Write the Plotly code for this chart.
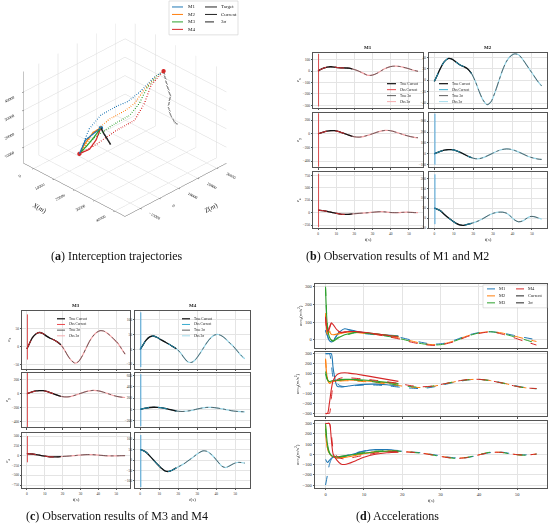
import plotly.graph_objects as go

W, H = 550, 528
FONT = 'Liberation Serif'

# ---------------- (a) 3D trajectories: points as (X, Z, height) ----------------
start_pt = (7500, -2100, 5000)
meet_pt = (8400, 8200, 14000)
end_pt = (24000, 24400, 45000)

m1_sigma = [(7500, -2100, 5000), (6900, 3700, 15000), (9300, 7200, 22000), (13400, 10500, 27000),
            (16500, 13800, 30000), (19400, 16700, 35000), (21200, 22400, 41000), (24000, 24400, 45000)]
m2_sigma = [(7500, -2100, 5000), (7400, 5200, 12000), (10800, 9700, 19000), (15800, 13000, 25000),
            (18200, 15500, 29000), (20100, 18500, 36000), (21900, 23100, 42000), (24000, 24400, 45000)]
m3_sigma = [(7500, -2100, 5000), (8000, 5000, 10000), (12600, 9700, 17000), (18300, 12800, 24000),
            (20200, 15800, 30000), (20800, 19200, 37000), (22400, 23700, 43000), (24000, 24400, 45000)]
m4_sigma = [(7500, -2100, 5000), (10800, 3100, 9000), (15200, 8600, 16000), (21800, 11600, 24000),
            (24200, 14100, 33000), (23200, 18700, 40000), (24000, 24400, 45000)]
m1_cur = [(7500, -2100, 5000), (7750, 800, 11000), (8400, 8200, 14000)]
m2_cur = [(7500, -2100, 5000), (7500, 500, 8500), (6900, 5700, 12000), (8400, 8200, 14000)]
m3_cur = [(7500, -2100, 5000), (8400, 500, 8000), (8800, 3800, 11000), (8400, 8200, 14000)]
m4_cur = [(7500, -2100, 5000), (9600, 900, 7000), (9500, 4500, 10000), (8400, 8200, 14000)]
target_cur = [(8400, 8200, 14000), (10000, 8000, 12000), (13500, 7900, 8000)]
target_sigma = [(24000, 24400, 45000), (26100, 23700, 40000), (28800, 22900, 35000), (29700, 20900, 31000),
                (30600, 21000, 27000), (31500, 22000, 23000), (31100, 24500, 20000)]

# ---------------- (b),(c) observation errors ----------------
t_err = [0, 1, 3, 5, 7, 9, 11, 13, 15, 17, 19, 21, 23, 25, 27, 29, 31, 33, 35, 37, 39, 41, 43, 45, 47, 49, 51, 53, 55]
t_switch = 19

m1_ex = [0, 10, 25, 35, 38, 35, 30, 28, 27, 25, 18, 8, -5, -20, -35, -38, -30, -15, 5, 22, 35, 42, 43, 40, 33, 25, 15, 5, -2]
m1_ey = [0, 8, 25, 38, 45, 45, 35, 18, 0, -20, -38, -47, -48, -40, -25, -8, 10, 28, 42, 50, 48, 38, 22, 5, -12, -28, -42, -52, -58]
m1_ez = [50, 48, 40, 25, 10, -5, -20, -32, -35, -32, -25, -18, -12, -8, -2, 5, 12, 18, 20, 15, 8, 2, 0, 3, 8, 10, 6, 2, 0]
m2_ex = [-2, 5, 20, 32, 38, 37, 32, 27, 24, 20, 12, -2, -20, -35, -43, -38, -22, -2, 18, 33, 42, 46, 45, 38, 28, 18, 8, -2, -10]
m2_ey = [0, 8, 22, 33, 38, 38, 30, 15, -2, -20, -35, -45, -45, -35, -20, -3, 15, 30, 40, 45, 42, 32, 18, 2, -15, -30, -40, -48, -52]
m2_ez = [50, 47, 38, 20, 3, -12, -25, -34, -36, -31, -26, -20, -12, -2, 10, 20, 27, 30, 30, 25, 10, -8, -18, -15, -3, 8, 8, 2, -5]
m3_ex = [-5, 5, 25, 36, 40, 37, 30, 24, 20, 14, 6, -8, -25, -38, -45, -40, -25, -5, 15, 30, 40, 45, 44, 38, 30, 20, 10, -5, -20]
m3_ey = [0, 8, 25, 38, 44, 42, 32, 15, -3, -22, -38, -46, -46, -38, -22, -5, 12, 28, 40, 46, 44, 35, 20, 3, -14, -30, -42, -50, -55]
m3_ez = [50, 48, 42, 28, 12, -5, -20, -30, -33, -30, -24, -18, -12, -5, 3, 12, 20, 26, 28, 25, 18, 10, 3, -3, -6, -5, -3, -1, 0]
m4_ex = [0, 10, 30, 42, 45, 40, 32, 25, 18, 10, 2, -10, -28, -42, -44, -35, -18, 2, 22, 38, 48, 50, 45, 35, 22, 10, -5, -20, -32]
m4_ey = [0, 8, 22, 32, 36, 35, 28, 15, 0, -15, -30, -38, -38, -30, -18, -3, 12, 25, 33, 35, 30, 20, 8, -5, -18, -30, -38, -42, -45]
m4_ez = [50, 47, 38, 20, 0, -20, -38, -52, -55, -48, -38, -28, -18, -5, 8, 22, 35, 44, 42, 30, 12, -10, -30, -36, -28, -18, -12, -12, -15]

# initial observation transient (top, bottom) at t ~ 0
m1_spikes = [(150, -310), (300, -480), (780, -290)]
m2_spikes = [None, (370, -100), (220, -30)]
m3_spikes = [(90, -35), (300, -480), (500, -170)]
m4_spikes = [(125, -60), (620, -300), (120, -130)]

m1_yranges = [[-320, 160], [-490, 310], [-310, 810]]
m2_yranges = [[-48, 48], [-125, 380], [-50, 230]]
m3_yranges = [[-60, 100], [-480, 300], [-830, 570]]
m4_yranges = [[-65, 130], [-320, 650], [-135, 128]]
m1_yticks = [[-300, -200, -100, 0, 100], [-400, -200, 0, 200], [-250, 0, 250, 500, 750]]
m2_yticks = [[-40, -20, 0, 20, 40], [-100, 0, 100, 200, 300], [-50, 0, 50, 100, 150, 200]]
m3_yticks = [[-50, 0, 50], [-400, -200, 0, 200], [-750, -500, -250, 0, 250, 500]]
m4_yticks = [[-50, 0, 50, 100], [-200, 0, 200, 400, 600], [-100, -50, 0, 50, 100]]

# ---------------- (d) accelerations ----------------
t_acc = [0, 0.5, 1, 1.5, 2, 3, 4, 5, 6, 8, 10, 13, 16, 19, 22, 25, 28, 31, 34, 37, 40, 43, 46, 49, 52, 55]
t_acc_cur = [0, 0.5, 1, 1.5, 2, 3, 4, 5, 6, 8, 10, 13, 16, 19]

accx_sig = [
    [50, 20, -10, -15, -5, 30, 55, 60, 55, 45, 35, 28, 22, 15, 0, -15, -25, -20, 0, 25, 40, 45, 38, 25, 12, 0],
    [150, 30, 50, 35, 25, 30, 35, 40, 40, 40, 37, 30, 20, 10, -5, -20, -28, -22, -3, 22, 38, 45, 38, 22, 5, -10],
    [300, 80, 20, 0, -5, 10, 20, 25, 30, 40, 38, 30, 20, 8, -8, -22, -30, -25, -5, 20, 38, 45, 35, 18, 0, -20],
    [130, 40, 60, 90, 80, 50, 40, 42, 45, 45, 40, 30, 18, 5, -12, -25, -32, -25, -8, 18, 35, 44, 32, 12, -10, -30],
]
accx_cur = [
    [55, 25, -5, -12, -8, 25, 50, 62, 58, 48, 40, 32, 27, 22],
    [140, 35, 45, 30, 28, 32, 38, 42, 42, 42, 38, 32, 25, 18],
    [290, 70, 15, -3, -8, 5, 18, 28, 33, 42, 40, 33, 25, 18],
    [125, 45, 70, 95, 85, 55, 42, 44, 46, 46, 42, 34, 25, 15],
]
accy_sig = [
    [300, 300, 300, 200, 60, 0, -25, -30, -28, -20, -15, -15, -22, -35, -45, -50, -35, -10, 15, 35, 42, 30, 8, -18, -40, -52],
    [250, 50, 0, 10, 15, 20, 25, 28, 28, 25, 20, 10, -5, -20, -35, -40, -28, -5, 20, 38, 42, 30, 8, -20, -42, -50],
    [120, 40, 15, 20, 25, 30, 35, 38, 38, 35, 28, 15, 0, -15, -30, -38, -25, -3, 22, 38, 42, 28, 5, -22, -43, -52],
    [-300, -300, -300, -150, -20, 40, 55, 60, 58, 52, 45, 32, 18, 2, -20, -32, -25, -2, 22, 40, 42, 28, 5, -22, -43, -50],
]
accy_cur = [
    [300, 300, 300, 300, 150, -25, -33, -30, -25, -15, -8, -6, -12, -25],
    [240, 45, 5, 15, 20, 28, 32, 35, 35, 32, 28, 18, 8, -5],
    [100, 35, 20, 25, 30, 35, 40, 42, 42, 40, 35, 25, 12, 0],
    [-300, -300, -200, -60, 30, 90, 105, 108, 105, 95, 82, 62, 42, 22],
]
accz_sig = [
    [-300, -200, -100, -50, -30, -28, -22, -15, -5, 15, 32, 45, 42, 32, 24, 14, -3, -22, -36, -32, -8, 16, 20, 2, -6, 3],
    [280, 60, 0, -20, -30, -35, -30, -25, -18, -2, 12, 25, 32, 30, 22, 12, -5, -25, -38, -30, -5, 18, 18, 0, -8, 2],
    [250, 80, 10, -15, -25, -30, -25, -20, -12, 5, 18, 30, 35, 30, 20, 10, -8, -28, -40, -30, -3, 20, 17, -2, -9, 0],
    [300, 300, 300, 200, 50, -20, -40, -45, -40, -25, -10, 10, 22, 25, 20, 10, -8, -28, -40, -32, -6, 17, 18, 0, -8, 2],
]
accz_cur = [
    [-50, -80, -60, -40, -30, -35, -30, -20, -10, 10, 30, 45, 45, 35],
    [200, 60, 10, -15, -25, -35, -35, -30, -25, -10, 5, 20, 28, 26],
    [300, 100, 20, -10, -20, -25, -20, -15, -10, 0, 10, 25, 30, 28],
    [300, 300, 300, 150, 0, -60, -95, -100, -90, -60, -30, 0, 15, 20],
]
acc_yranges = [[-45, 315], [-330, 320], [-330, 320]]
acc_yticks = [[0, 100, 200, 300], [-300, -200, -100, 0, 100, 200, 300], [-300, -200, -100, 0, 100, 200, 300]]

missiles = ['M1', 'M2', 'M3', 'M4']
colors = ['#1f77b4', '#ff7f0e', '#2ca02c', '#d62728']


def xp(p):
    return p / W


def yp(p):
    return 1 - p / H


fig = go.Figure()
layout = dict(width=W, height=H, margin=dict(l=0, r=0, t=0, b=0), showlegend=False,
              paper_bgcolor='white', plot_bgcolor='white',
              font=dict(family=FONT, color='#222'))
shapes = []
annotations = []
k = 0


def make_axes(xpx, ypx, yrange, yticks, show_x, ytitle, tickfs, titlefs):
    global k
    k += 1
    sx = '' if k == 1 else str(k)
    common = dict(showline=True, mirror=True, linecolor='#555', linewidth=0.7,
                  showgrid=True, gridcolor='#e4e4e4', gridwidth=0.5, zeroline=False,
                  ticks='outside', ticklen=1.5, tickwidth=0.5, tickcolor='#555',
                  tickfont=dict(size=tickfs, color='#333'))
    layout['xaxis' + sx] = dict(common, domain=[xp(xpx[0]), xp(xpx[1])], anchor='y' + sx,
                                range=[-2.75, 57.75], tickvals=[0, 10, 20, 30, 40, 50],
                                showticklabels=show_x,
                                title=dict(text='<i>t</i>(<i>s</i>)' if show_x else '',
                                           font=dict(size=titlefs), standoff=2))
    layout['yaxis' + sx] = dict(common, domain=[yp(ypx[1]), yp(ypx[0])], anchor='x' + sx,
                                range=yrange, tickvals=yticks,
                                title=dict(text=ytitle, font=dict(size=titlefs), standoff=2))
    return 'x' + sx, 'y' + sx


def line(x, y, xa, ya, color, width, dash='solid', spline=True):
    fig.add_trace(go.Scatter(x=x, y=y, xaxis=xa, yaxis=ya, mode='lines', hoverinfo='skip',
                             line=dict(color=color, width=width, dash=dash,
                                       shape='spline' if spline else 'linear', smoothing=0.8)))


def add_legend(entries, x_line, x_text, y0, dy, seg, fs, frame=None):
    if frame:
        shapes.append(dict(type='rect', xref='paper', yref='paper', x0=xp(frame[0]), x1=xp(frame[1]),
                           y0=yp(frame[3]), y1=yp(frame[2]), fillcolor='rgba(255,255,255,0.9)',
                           line=dict(color='#cccccc', width=0.6)))
    for i, (label, color, dash, width) in enumerate(entries):
        y = y0 + i * dy
        shapes.append(dict(type='line', xref='paper', yref='paper', x0=xp(x_line), x1=xp(x_line + seg),
                           y0=yp(y), y1=yp(y), line=dict(color=color, width=width, dash=dash)))
        annotations.append(dict(text=label, xref='paper', yref='paper', x=xp(x_text), y=yp(y),
                                xanchor='left', yanchor='middle', showarrow=False,
                                font=dict(size=fs, color='#222')))


# ---------------- (a) ----------------
def add3d(pts, color, width, dash='solid'):
    fig.add_trace(go.Scatter3d(x=[p[0] for p in pts], y=[p[1] for p in pts], z=[p[2] for p in pts],
                               mode='lines', hoverinfo='skip', line=dict(color=color, width=width, dash=dash)))


for pts, c in zip([m1_sigma, m2_sigma, m3_sigma, m4_sigma], colors):
    add3d(pts, c, 2.5, 'dash')
for pts, c in zip([m1_cur, m2_cur, m3_cur, m4_cur], colors):
    add3d(pts, c, 2.5)
add3d(target_cur, '#222222', 3)
add3d(target_sigma, '#222222', 3, 'dash')
fig.add_trace(go.Scatter3d(x=[start_pt[0]] * 4, y=[start_pt[1]] * 4, z=[start_pt[2]] * 4, mode='markers',
                           hoverinfo='skip', marker=dict(color=colors, size=2.5)))
fig.add_trace(go.Scatter3d(x=[meet_pt[0], end_pt[0]], y=[meet_pt[1], end_pt[1]], z=[meet_pt[2], end_pt[2]],
                           mode='markers', hoverinfo='skip', marker=dict(color=[colors[0], colors[3]], size=2.5)))

ax3 = dict(showbackground=False, gridcolor='#d9d9d9', gridwidth=1, zeroline=False, showspikes=False,
           showline=True, linecolor='#666', tickfont=dict(size=7, family=FONT, color='#222'),
           ticks='outside', ticklen=2, tickformat='d')
layout['scene'] = dict(
    domain=dict(x=[0, xp(250)], y=[yp(240), 1]),
    xaxis=dict(ax3, range=[-5000, 45000], tickvals=[0, 10000, 20000, 30000, 40000],
               title=dict(text='<i>X</i>(<i>m</i>)', font=dict(size=7, family=FONT))),
    yaxis=dict(ax3, range=[-18000, 35000], tickvals=[-10000, 0, 10000, 20000, 30000],
               title=dict(text='<i>Z</i>(<i>m</i>)', font=dict(size=7, family=FONT))),
    zaxis=dict(ax3, range=[1300, 51000], tickvals=[10000, 20000, 30000, 40000], title=dict(text='')),
    aspectmode='manual', aspectratio=dict(x=1.2, y=1.2, z=0.9),
    camera=dict(eye=dict(x=0.93, y=-0.93, z=0.79), center=dict(x=0, y=0, z=-0.02),
                projection=dict(type='orthographic')),
)
add_legend([(m, c, 'solid', 1) for m, c in zip(missiles, colors)], 172, 186, 7, 7.5, 11, 5,
           frame=(169, 238, 1, 35))
add_legend([('Target', '#222', 'solid', 1), ('Current', '#222', 'solid', 1), ('3σ', '#222', 'dash', 1)],
           205, 219, 7, 7.5, 12, 5)

# ---------------- (b), (c) ----------------
err_cases = [
    ('M1', [m1_ex, m1_ey, m1_ez], m1_spikes, m1_yranges, m1_yticks, (313, 423), [(53, 108), (113, 168), (173, 229)], True),
    ('M2', [m2_ex, m2_ey, m2_ez], m2_spikes, m2_yranges, m2_yticks, (429, 547), [(53, 108), (113, 168), (173, 229)], False),
    ('M3', [m3_ex, m3_ey, m3_ez], m3_spikes, m3_yranges, m3_yticks, (22, 130), [(312, 370), (374, 429), (435, 490)], True),
    ('M4', [m4_ex, m4_ey, m4_ez], m4_spikes, m4_yranges, m4_yticks, (135, 250), [(312, 370), (374, 429), (435, 490)], False),
]
n_cur = len([t for t in t_err if t <= t_switch])
for name, series, spikes, yr, yt, xpx, rows, left in err_cases:
    dark, light = ('#e8363a', '#f4a3a6') if name in ('M1', 'M3') else ('#22a3c9', '#97d6e8')
    spike_c = '#d62728' if name in ('M1', 'M3') else '#1f8fd0'
    for r, (vals, sp) in enumerate(zip(series, spikes)):
        ytitle = '<i>e</i><sub>' + 'xyz'[r] + '</sub>' if left else ''
        xa, ya = make_axes(xpx, rows[r], yr[r], yt[r], r == 2, ytitle, 3.5, 5)
        line(t_err, vals, xa, ya, light, 1.2)
        line(t_err, vals, xa, ya, '#333333', 0.7, 'dashdot')
        line(t_err[:n_cur], vals[:n_cur], xa, ya, '#111111', 1.3)
        line(t_err[:n_cur], vals[:n_cur], xa, ya, dark, 0.9, 'dash')
        if sp:
            line([0.3, 0.3], list(sp), xa, ya, spike_c, 0.8, spline=False)
    annotations.append(dict(text='<b>' + name + '</b>', xref='paper', yref='paper',
                            x=xp((xpx[0] + xpx[1]) / 2), y=yp(rows[0][0] - 1), xanchor='center',
                            yanchor='bottom', showarrow=False, font=dict(size=5)))

err_legend = lambda dark, light: [('True Current', '#111', 'solid', 1.2), ('Obs Current', dark, 'dash', 0.9),
                                  ('True 3σ', '#333', 'dashdot', 0.8), ('Obs 3σ', light, 'solid', 0.9)]
add_legend(err_legend('#e8363a', '#f4a3a6'), 387, 398, 84, 6, 9, 3.5)
add_legend(err_legend('#22a3c9', '#97d6e8'), 439, 450, 84, 6, 9, 3.5)
add_legend(err_legend('#e8363a', '#f4a3a6'), 57, 67, 320, 5.7, 8, 3.5)
add_legend(err_legend('#22a3c9', '#97d6e8'), 182, 192, 320, 5.7, 8, 3.5)

# ---------------- (d) ----------------
acc_rows = [(285, 349), (353, 418), (423, 490)]
acc_data = [(accx_sig, accx_cur), (accy_sig, accy_cur), (accz_sig, accz_cur)]
for r, (sig, cur) in enumerate(acc_data):
    ytitle = 'acc<sub>' + 'xyz'[r] + '</sub>(<i>m</i>/<i>s</i><sup>2</sup>)'
    xa, ya = make_axes((315, 547), acc_rows[r], acc_yranges[r], acc_yticks[r], r == 2, ytitle, 4.5, 5)
    for m in range(4):
        line(t_acc, sig[m], xa, ya, colors[m], 1.0, 'dash')
        line(t_acc_cur, cur[m], xa, ya, colors[m], 1.1)

add_legend([(missiles[i], colors[i], 'solid', 1) for i in range(3)], 487, 497, 290, 7, 8, 4.5,
           frame=(483, 547, 286, 309))
add_legend([('M4', colors[3], 'solid', 1), ('Current', '#222', 'solid', 1), ('3σ', '#222', 'dash', 1)],
           516, 526, 290, 7, 8, 4.5)

# ---------------- captions ----------------
captions = [('(<b>a</b>) Interception trajectories', 117, 257),
            ('(<b>b</b>) Observation results of M1 and M2', 397, 257),
            ('(<b>c</b>) Observation results of M3 and M4', 117, 518),
            ('(<b>d</b>) Accelerations', 397, 518)]
for text, cx, cy in captions:
    annotations.append(dict(text=text, xref='paper', yref='paper', x=xp(cx), y=yp(cy),
                            xanchor='center', yanchor='middle', showarrow=False,
                            font=dict(size=12, color='#111')))

layout['shapes'] = shapes
layout['annotations'] = annotations
fig.update_layout(layout)
fig.write_html('out.html', config={'displayModeBar': False},
               post_script="document.body.style.margin='0px';")
